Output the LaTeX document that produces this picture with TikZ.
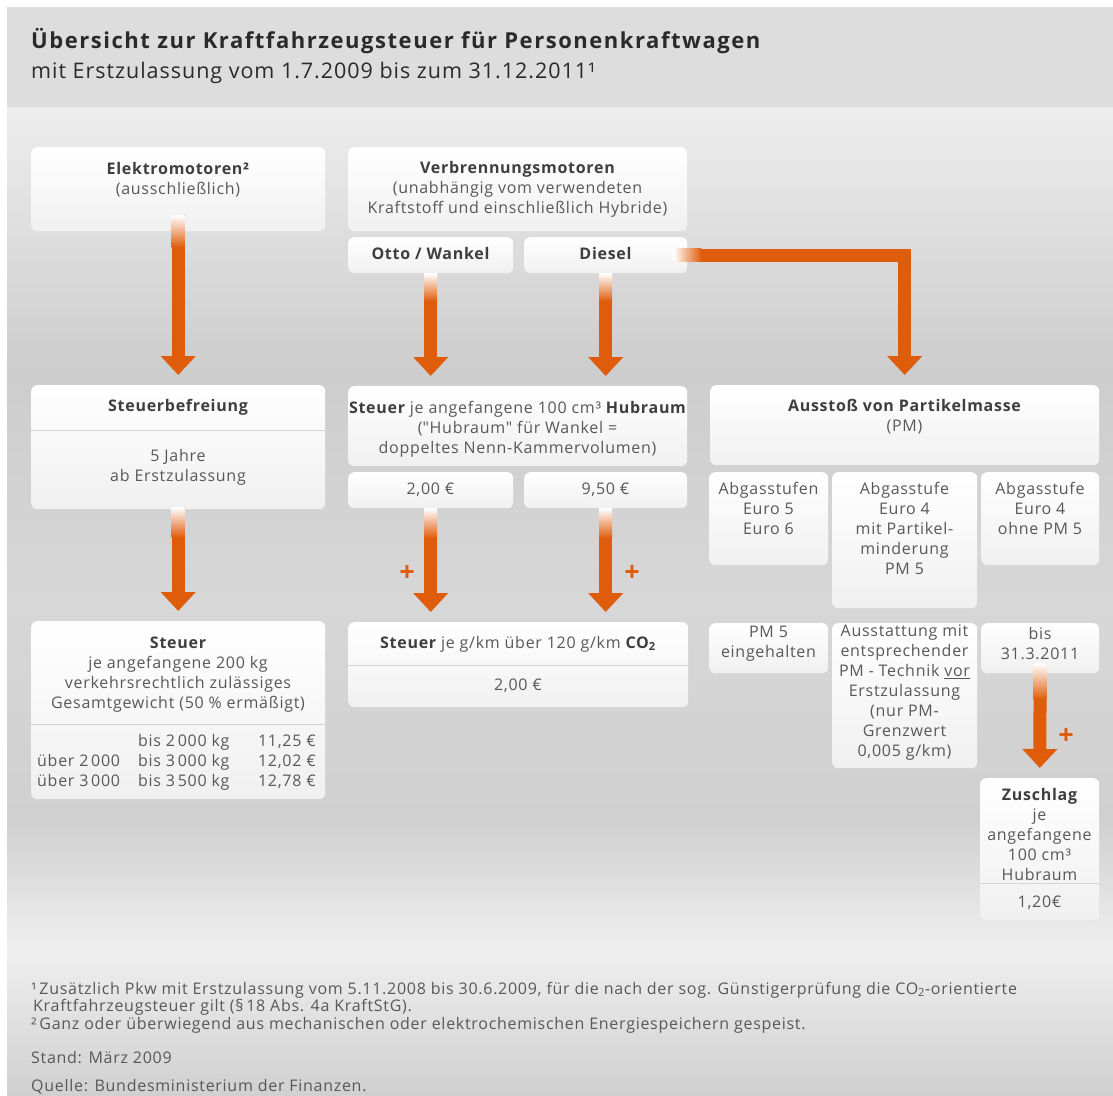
\documentclass[tikz,border=0pt]{standalone}
\usepackage{fontspec}
\setmainfont{Open Sans}[LetterSpace=4.5]
\usetikzlibrary{arrows.meta,calc}
\definecolor{org}{RGB}{223,92,10}
\definecolor{txt}{RGB}{88,88,88}
\definecolor{bld}{RGB}{62,62,62}
\definecolor{ttl}{RGB}{42,42,42}
\definecolor{hdr}{RGB}{221,221,221}
\definecolor{bga}{RGB}{237,237,237}
\definecolor{bgb}{RGB}{205,205,205}
\definecolor{bgc}{RGB}{215,215,215}
\definecolor{bgd}{RGB}{208,208,208}
\definecolor{bge}{RGB}{239,239,239}
\definecolor{bgf}{RGB}{208,208,208}
\definecolor{boxbot}{RGB}{240,240,240}
\definecolor{sepc}{RGB}{212,212,212}
\newcommand\hb[1]{\textcolor{bld}{\bfseries #1}}
\newcommand\sq[1]{{\addfontfeature{Ligatures=TeXOff}"#1"}}
\newcommand\bx[5]{\node[box, minimum width={(#4)-(#2)}, minimum height={(#5)-(#3)}] (#1) at (#2,#3) {};}
\tikzset{
  box/.style={rectangle, rounded corners=6pt, top color=white, bottom color=boxbot, inner sep=0pt, anchor=north west},
  tx/.style={text=txt, font=\fontsize{16}{20}\selectfont, align=center, inner sep=0pt},
  one/.style={text height=12pt, text depth=4pt},
  arr/.style={draw=org, line width=13pt, -{Triangle[width=34pt,length=19pt]}, shorten >=10pt},
  plus/.style={text=org, font=\bfseries\fontsize{27}{27}\selectfont, inner sep=0pt},
  sep/.style={draw=sepc, line width=1pt},
  fn/.style={text=txt, font=\fontsize{16}{20}\selectfont, anchor=west, inner sep=0pt, text height=12pt, text depth=4pt}
}
\begin{document}
\begin{tikzpicture}[x=1pt,y=-1pt]
\useasboundingbox (0,0) rectangle (1113,1095);
% background
\fill[white] (0,0) rectangle (1113,1095);
\fill[hdr] (7,7) rectangle (1113,107.5);
\shade[top color=bga, bottom color=bgb] (7,107) rectangle (1113,370.5);
\shade[top color=bgb, bottom color=bgc] (7,370) rectangle (1113,600.5);
\shade[top color=bgc, bottom color=bgd] (7,600) rectangle (1113,820.5);
\shade[top color=bgd, bottom color=bge] (7,820) rectangle (1113,950.5);
\shade[top color=bge, bottom color=bgf] (7,950) rectangle (1113,1095);
% title
\node[anchor=base west, inner sep=0pt, text=ttl, font=\bfseries\fontsize{22}{26}\selectfont\addfontfeature{LetterSpace=7}] (title) at (31,48) {Übersicht zur Kraftfahrzeugsteuer für Personenkraftwagen};
\node[anchor=base west, inner sep=0pt, text=ttl, font=\fontsize{21.5}{26}\selectfont] (subtitle) at (31,78) {mit Erstzulassung vom 1.7.2009 bis zum 31.12.2011¹};
% boxes
\bx{elek}{31}{147}{325}{231}
\bx{verb}{348}{147}{687}{231}
\bx{otto}{348}{237}{513}{273}
\bx{diesel}{524}{237}{687}{273}
\bx{befr}{31}{385}{325}{509}
\bx{hub}{348}{386}{687}{466}
\bx{ptwo}{348}{472}{513}{508}
\bx{pnine}{524}{472}{687}{508}
\bx{pm}{710}{385}{1099}{465}
\bx{euroa}{709}{472}{828}{565}
\bx{eurob}{832}{472}{977}{608}
\bx{euroc}{981}{472}{1099}{565}
\bx{pmok}{709}{623}{828}{673}
\bx{tech}{832}{623}{977}{768}
\bx{bis}{981}{623}{1099}{673}
\bx{steuer}{31}{621}{325}{799}
\bx{co}{348}{622}{688}{707}
\bx{zus}{980}{778}{1099}{920}
% separators
\draw[sep] ($(befr.north west)+(0,45)$) -- ($(befr.north east)+(0,45)$);
\draw[sep] ($(steuer.north west)+(0,103)$) -- ($(steuer.north east)+(0,103)$);
\draw[sep] ($(co.north west)+(0,43)$) -- ($(co.north east)+(0,43)$);
\draw[sep] ($(zus.north west)+(0,105)$) -- ($(zus.north east)+(0,105)$);
% arrows
\draw[arr] ($(elek.south)+(0,-16)$) -- (befr.north);
\shade[top color=white, bottom color=org] ($(elek.south)+(-6.5,-16)$) rectangle ($(elek.south)+(6.5,16)$);
\draw[arr] ($(befr.south)+(0,-2)$) -- (steuer.north);
\shade[top color=white, bottom color=org] ($(befr.south)+(-6.5,-2)$) rectangle ($(befr.south)+(6.5,28)$);
\draw[arr] (otto.south) -- (otto.south |- hub.north);
\shade[top color=white, bottom color=org] ($(otto.south)+(-6.5,0)$) rectangle ($(otto.south)+(6.5,28)$);
\draw[arr] (diesel.south) -- (diesel.south |- hub.north);
\shade[top color=white, bottom color=org] ($(diesel.south)+(-6.5,0)$) rectangle ($(diesel.south)+(6.5,28)$);
\draw[arr] ($(diesel.east)+(-14,0)$) -| (pm.north);
\shade[left color=white, right color=org] ($(diesel.east)+(-14,-6.5)$) rectangle ($(diesel.east)+(14,6.5)$);
\draw[arr] (ptwo.south) -- (ptwo.south |- co.north);
\shade[top color=white, bottom color=org] ($(ptwo.south)+(-6.5,0)$) rectangle ($(ptwo.south)+(6.5,30)$);
\draw[arr] (pnine.south) -- (pnine.south |- co.north);
\shade[top color=white, bottom color=org] ($(pnine.south)+(-6.5,0)$) rectangle ($(pnine.south)+(6.5,30)$);
\draw[arr] ($(bis.south)+(0,-10)$) -- (zus.north);
\shade[top color=white, bottom color=org] ($(bis.south)+(-6.5,-10)$) rectangle ($(bis.south)+(6.5,26)$);
\node[plus] (plusa) at (407,573) {+};
\node[plus] (plusb) at (632,573) {+};
\node[plus] (plusc) at (1066,736) {+};
% texts
\node[tx] (elekT) at (178,180) {\hb{Elektromotoren²}\\(ausschließlich)};
\node[tx] (verbT) at (517.5,189) {\hb{Verbrennungsmotoren}\\(unabhängig vom verwendeten\\Kraftstoff und einschließlich Hybride)};
\node[tx,one] (ottoT) at (430.5,255) {\hb{Otto / Wankel}};
\node[tx,one] (dieselT) at (605.5,255) {\hb{Diesel}};
\node[tx,one] (befrT) at (178,407) {\hb{Steuerbefreiung}};
\node[tx] (befrU) at (178,467) {5 Jahre\\ab Erstzulassung};
\node[tx] (hubT) at (517.5,429.5) {\hb{Steuer} je angefangene 100 cm³ \hb{Hubraum}\\(\sq{Hubraum} für Wankel =\\doppeltes Nenn-Kammervolumen)};
\node[tx,one] (ptwoT) at (430.5,490) {2,00 €};
\node[tx,one] (pnineT) at (605.5,490) {9,50 €};
\node[tx] (pmT) at (904.5,417) {\hb{Ausstoß von Partikelmasse}\\(PM)};
\node[tx] (euroaT) at (768.5,508) {Abgasstufen\\Euro 5\\Euro 6};
\node[tx] (eurobT) at (904.5,528) {Abgasstufe\\Euro 4\\mit Partikel-\\minderung\\PM 5};
\node[tx] (eurocT) at (1040,508) {Abgasstufe\\Euro 4\\ohne PM 5};
\node[tx] (pmokT) at (768.5,644) {PM 5\\eingehalten};
\node[tx] (techT) at (904.5,693) {Ausstattung mit\\entsprechender\\PM - Technik \underline{vor}\\Erstzulassung\\(nur PM-\\Grenzwert\\0,005 g/km)};
\node[tx] (bisT) at (1040,644) {bis\\31.3.2011};
\node[tx] (steuerT) at (178,674.5) {\hb{Steuer}\\je angefangene 200 kg\\verkehrsrechtlich zulässiges\\Gesamtgewicht (50 \% ermäßigt)};
\node[tx,one,anchor=west] (rowaB) at (138,742) {bis 2\,000 kg};
\node[tx,one,anchor=east] (rowaC) at (316,742) {11,25 €};
\node[tx,one,anchor=west] (rowbA) at (37,762) {über 2\,000};
\node[tx,one,anchor=west] (rowbB) at (138,762) {bis 3\,000 kg};
\node[tx,one,anchor=east] (rowbC) at (316,762) {12,02 €};
\node[tx,one,anchor=west] (rowcA) at (37,782) {über 3\,000};
\node[tx,one,anchor=west] (rowcB) at (138,782) {bis 3\,500 kg};
\node[tx,one,anchor=east] (rowcC) at (316,782) {12,78 €};
\node[tx,one] (coT) at (518,644) {\hb{Steuer} je g/km über 120 g/km \hb{CO\textsubscript{2}}};
\node[tx,one] (coU) at (518,686) {2,00 €};
\node[tx] (zusT) at (1039.5,834) {\hb{Zuschlag}\\je\\angefangene\\100 cm³\\Hubraum};
\node[tx,one] (zusU) at (1039.5,903) {1,20€};
% footnotes
\node[fn] (fna) at (31,990) {¹\,Zusätzlich Pkw mit Erstzulassung vom 5.11.2008 bis 30.6.2009, für die nach der sog. Günstigerprüfung die CO\textsubscript{2}-orientierte};
\node[fn] (fnb) at (33,1007.5) {Kraftfahrzeugsteuer gilt (§\,18 Abs. 4a KraftStG).};
\node[fn] (fnc) at (31,1025) {²\,Ganz oder überwiegend aus mechanischen oder elektrochemischen Energiespeichern gespeist.};
\node[fn] (fnd) at (31,1059) {Stand: März 2009};
\node[fn] (fne) at (31,1087) {Quelle: Bundesministerium der Finanzen.};
\end{tikzpicture}
\end{document}
